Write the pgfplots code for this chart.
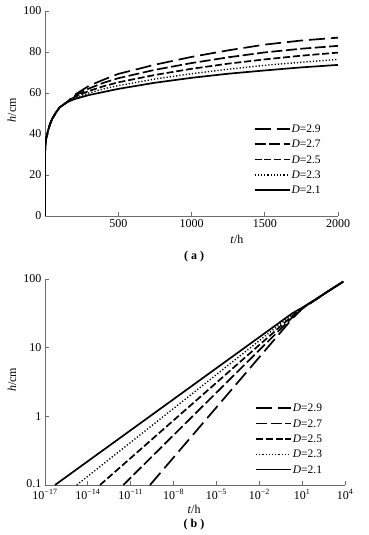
\documentclass[border=0pt]{standalone}
\usepackage{fontspec}
\setmainfont{Liberation Serif}
\usepackage{pgfplots}
\pgfplotsset{compat=1.18}

\pgfplotstableread{
t h
0 0
0.3 28
1 32
3 35
6 37
10 38.5
20 41.5
35 45
50 47.5
75 50.5
100 53
150 55.5
200 59
300 63.5
400 66.5
500 69.3
750 73.8
1000 77.6
1250 80.8
1500 83.6
1750 85.6
2000 87
}\aNine
\pgfplotstableread{
t h
0 0
0.3 28
1 32
3 35
6 37
10 38.5
20 41.5
35 45
50 47.5
75 50.5
100 53
150 55.5
200 58.5
300 62.2
400 65
500 67.2
750 71.3
1000 74.6
1250 77.4
1500 79.8
1750 81.6
2000 83
}\aSeven
\pgfplotstableread{
t h
0 0
0.3 28
1 32
3 35
6 37
10 38.5
20 41.5
35 45
50 47.5
75 50.5
100 53
150 55.5
200 58
300 61
400 63.3
500 65.2
750 68.8
1000 71.8
1250 74.3
1500 76.4
1750 78.2
2000 79.7
}\aFive
\pgfplotstableread{
t h
0 0
0.3 28
1 32
3 35
6 37
10 38.5
20 41.5
35 45
50 47.5
75 50.5
100 53
150 55.5
200 57.5
300 60
400 62
500 63.6
750 66.8
1000 69.4
1250 71.6
1500 73.5
1750 75
2000 76.4
}\aThree
\pgfplotstableread{
t h
0 0
0.3 28
1 32
3 35
6 37
10 38.5
20 41.5
35 45
50 47.5
75 50.5
100 53
150 55.5
200 57
300 59
400 60.5
500 62
750 65
1000 67.4
1250 69.4
1500 71
1750 72.5
2000 73.7
}\aOne

\pgfplotsset{
  myax/.style={
    scale only axis,
    axis lines*=left,
    axis line style={draw=gray!85!black, line width=0.8pt},
    tick align=inside,
    major tick length=4pt,
    tick style={draw=gray!85!black, line width=0.8pt},
    xminorticks=false, yminorticks=false,
    /pgf/number format/assume math mode=true,
    /pgf/number format/1000 sep={},
    scaled ticks=false,
    tick label style={font=\fontsize{12}{14}\selectfont},
    label style={font=\fontsize{12}{14}\selectfont},
    legend style={draw=none, fill=none, inner sep=0pt,
      font=\fontsize{11.5}{13}\selectfont,
      nodes={inner sep=1pt, text height=8pt, text depth=1pt},
      row sep=4.3pt},
    legend cell align=left,
    legend image code/.code={\draw[##1] (0pt,0pt) -- (35pt,0pt);},
  },
  d29/.style={black, line width=1.7pt, dash pattern=on 16pt off 6pt},
  d27/.style={black, line width=1.7pt, dash pattern=on 11pt off 3.5pt},
  d25/.style={black, line width=1.7pt, dash pattern=on 7pt off 2.8pt},
  d23/.style={black, line width=1.4pt, dash pattern=on 1.2pt off 2pt},
  d21/.style={black, line width=1.7pt, solid},
}

\begin{document}
\begin{tikzpicture}[x=1pt,y=1pt]
\path (0,0) rectangle (368,535);

% ---------- (a) ----------
\begin{axis}[myax,
  at={(45pt,319pt)}, anchor=south west,
  width=293pt, height=205pt,
  xmin=0, xmax=2000, ymin=0, ymax=100,
  xtick={500,1000,1500,2000},
  ytick={0,20,40,60,80,100},
  ylabel={\textit{h}/cm},
  ylabel style={at={(axis description cs:-0.113,0.517)}, anchor=center, rotate=0},
  xlabel={\textit{t}/h},
  xlabel style={at={(axis description cs:0.655,0)}, anchor=center, yshift=-23pt},
  legend style={at={(axis description cs:0.712,0.452)}, anchor=north west},
]
\addplot[d29] table[x=t,y=h] {\aNine};
\addplot[d27] table[x=t,y=h] {\aSeven};
\addplot[d25] table[x=t,y=h] {\aFive};
\addplot[d23] table[x=t,y=h] {\aThree};
\addplot[d21] table[x=t,y=h] {\aOne};
\legend{\textit{D}=2.9,\textit{D}=2.7,\textit{D}=2.5,\textit{D}=2.3,\textit{D}=2.1}
\end{axis}
\node[font=\fontsize{12}{14}\selectfont\bfseries] at (194,278) {(\hspace{3pt}a\hspace{3pt})};

% ---------- (b) ----------
\begin{axis}[myax,
  at={(45pt,50pt)}, anchor=south west,
  width=300pt, height=206pt,
  xmode=log, ymode=log,
  xmin=1e-17, xmax=1e4, ymin=0.1, ymax=100,
  xtick={1e-17,1e-14,1e-11,1e-8,1e-5,1e-2,1e1,1e4},
  xticklabels={10\textsuperscript{−17},10\textsuperscript{−14},10\textsuperscript{−11},10\textsuperscript{−8},10\textsuperscript{−5},10\textsuperscript{−2},10\textsuperscript{1},10\textsuperscript{4}},
  xticklabel style={yshift=-1pt},
  ytick={0.1,1,10,100},
  yticklabels={\raisebox{3pt}{0.1},1,10,100},
  ylabel={\textit{h}/cm},
  ylabel style={at={(axis description cs:-0.11,0.51)}, anchor=center, rotate=0},
  xlabel={\textit{t}/h},
  xlabel style={at={(axis description cs:0.497,0)}, anchor=center, yshift=-24pt},
  legend style={at={(axis description cs:0.70,0.40)}, anchor=north west},
]
\addplot[d29] coordinates {(2.24e-10,0.1) (2.0,26.3) (10,36.9) (100,50.7) (1000,69.7) (8000,92.5)};
\addplot[d27] coordinates {(3.02e-12,0.1) (2.0,27.5) (10,37.2) (100,50.9) (1000,69.9) (7800,92)};
\addplot[d25] coordinates {(7.08e-14,0.1) (2.0,28.8) (10,37.5) (100,51.1) (1000,70.1) (7500,91.5)};
\addplot[d23] coordinates {(1.66e-15,0.1) (2.0,30.2) (10,37.8) (100,51.3) (1000,70.3) (7300,91)};
\addplot[d21] coordinates {(5.01e-17,0.1) (2.0,31.6) (10,38.2) (100,51.5) (1000,70.5) (7000,90.5)};
\legend{\textit{D}=2.9,\textit{D}=2.7,\textit{D}=2.5,\textit{D}=2.3,\textit{D}=2.1}
\end{axis}
\node[font=\fontsize{12}{14}\selectfont\bfseries] at (194,10) {(\hspace{3pt}b\hspace{3pt})};
\end{tikzpicture}
\end{document}
